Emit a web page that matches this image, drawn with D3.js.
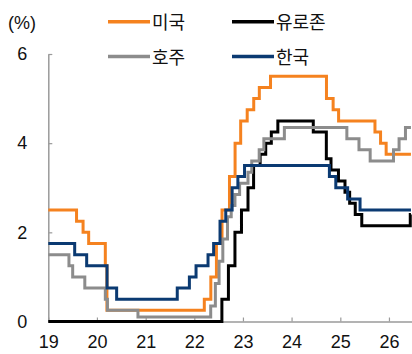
<!DOCTYPE html>
<html>
<head>
<meta charset="utf-8">
<script src="https://cdn.jsdelivr.net/npm/d3@7"></script>
<style>
  html, body { margin: 0; padding: 0; background: #fff; }
  svg { display: block; }
  text { font-family: "Liberation Sans", Arial, "Noto Sans CJK KR", sans-serif; fill: #111; }
  .legend text { font-family: "Noto Sans CJK KR", "Liberation Sans", sans-serif; }
</style>
</head>
<body>
<svg id="chart" width="412" height="354"></svg>
<script>
// Policy rates (%), given as the date each new rate took effect.
const usDates = ["2019-01-01","2019-08-01","2019-09-19","2019-10-31","2020-03-04","2020-03-16",
  "2022-03-17","2022-05-05","2022-06-16","2022-07-28","2022-09-22","2022-11-03","2022-12-15",
  "2023-02-02","2023-03-23","2023-05-04","2023-07-27","2024-09-19","2024-11-08","2024-12-19",
  "2025-09-18","2025-10-30","2025-12-11"];
const usRates = [2.50,2.25,2.00,1.75,1.25,0.25,
  0.50,1.00,1.75,2.50,3.25,4.00,4.50,
  4.75,5.00,5.25,5.50,5.00,4.75,4.50,
  4.25,4.00,3.75];

const euroDates = ["2019-01-01","2022-07-27","2022-09-14","2022-11-02","2022-12-21","2023-02-08",
  "2023-03-22","2023-05-10","2023-06-21","2023-08-02","2023-09-20","2024-06-12","2024-09-18",
  "2024-10-23","2024-12-18","2025-02-05","2025-03-12","2025-04-23","2025-06-11","2026-06-10"];
const euroRates = [0.00,0.50,1.25,2.00,2.50,3.00,
  3.50,3.75,4.00,4.25,4.50,4.25,3.65,
  3.40,3.15,2.90,2.65,2.40,2.15,2.40];

const auDates = ["2019-01-01","2019-06-05","2019-07-03","2019-10-02","2020-03-04","2020-03-20",
  "2020-11-04","2022-05-04","2022-06-08","2022-07-06","2022-08-03","2022-09-07","2022-10-05",
  "2022-11-02","2022-12-07","2023-02-08","2023-03-08","2023-05-03","2023-06-07","2023-11-08",
  "2025-02-19","2025-05-21","2025-08-13","2026-02-04","2026-03-18","2026-05-05"];
const auRates = [1.50,1.25,1.00,0.75,0.50,0.25,
  0.10,0.35,0.85,1.35,1.85,2.35,2.60,
  2.85,3.10,3.35,3.60,3.85,4.10,4.35,
  4.10,3.85,3.60,3.85,4.10,4.35];

const krDates = ["2019-01-01","2019-07-18","2019-10-16","2020-03-17","2020-05-28","2021-08-26",
  "2021-11-25","2022-01-14","2022-04-14","2022-05-26","2022-07-13","2022-08-25","2022-10-12",
  "2022-11-24","2023-01-13","2024-10-11","2024-11-28","2025-02-25","2025-05-29"];
const krRates = [1.75,1.50,1.25,0.75,0.50,0.75,
  1.00,1.25,1.50,1.75,2.25,2.50,3.00,
  3.25,3.50,3.25,3.00,2.75,2.50];

const seriesNames = ["미국","유로존","호주","한국"];
const seriesColors = ["#F5821F","#000000","#8C8C8C","#0B3A72"];
const lastDate = "2026-06-15";

const yearTickDates = ["2019-01-01","2020-01-01","2021-01-01","2022-01-01","2023-01-01","2024-01-01","2025-01-01","2026-01-01"];
const yearTickLabels = ["19","20","21","22","23","24","25","26"];
const rateTicks = [0,2,4,6];

const parse = d3.timeParse("%Y-%m-%d");

function buildSeries(dates, rates) {
  const pts = dates.map((d, i) => ({ date: parse(d), rate: rates[i] }));
  pts.push({ date: parse(lastDate), rate: rates[rates.length - 1] });
  return pts;
}
const allSeries = [
  buildSeries(usDates, usRates),
  buildSeries(euroDates, euroRates),
  buildSeries(auDates, auRates),
  buildSeries(krDates, krRates)
];

const svg = d3.select("#chart");
const x = d3.scaleTime()
  .domain([parse("2019-01-01"), parse("2026-06-20")])
  .range([48.3, 411.6]);
const y = d3.scaleLinear().domain([0, 6]).range([321.5, 54]);

// axes
const xAxis = d3.axisBottom(x)
  .tickValues(yearTickDates.map(parse))
  .tickFormat((d, i) => yearTickLabels[i])
  .tickSize(-4).tickSizeOuter(0).tickPadding(14);
const gx = svg.append("g").attr("transform", `translate(0,${y(0)})`).call(xAxis);

const yAxis = d3.axisLeft(y)
  .tickValues(rateTicks)
  .tickFormat(d3.format("d"))
  .tickSize(-4).tickSizeOuter(0).tickPadding(21);
const gy = svg.append("g").attr("transform", `translate(${x.range()[0]},0)`).call(yAxis);

[gx, gy].forEach(g => {
  g.select(".domain").attr("stroke", "#9a9a9a").attr("stroke-width", 1.5);
  g.selectAll(".tick line").attr("stroke", "#9a9a9a").attr("stroke-width", 1.2);
  g.selectAll(".tick text").style("font-size", "18px").attr("fill", "#111")
    .style("font-family", '"Liberation Sans", Arial, sans-serif');
});
gy.selectAll(".tick text").attr("text-anchor", "end");

// unit label
svg.append("text").attr("x", 8).attr("y", 28.5)
  .style("font-size", "18px").text("(%)");

// rate lines
const line = d3.line()
  .x(d => x(d.date))
  .y(d => y(d.rate))
  .curve(d3.curveStepAfter);

svg.append("g").selectAll("path")
  .data(allSeries)
  .join("path")
  .attr("d", line)
  .attr("fill", "none")
  .attr("stroke", (d, i) => seriesColors[i])
  .attr("stroke-width", 3)
  .attr("stroke-linejoin", "miter");

// legend: two rows, two columns
const legendX = [108, 232];
const legendY = [21.7, 56.5];
const legend = svg.append("g").attr("class", "legend");
seriesNames.forEach((name, i) => {
  const lx = legendX[i % 2], ly = legendY[Math.floor(i / 2)];
  legend.append("line")
    .attr("x1", lx).attr("x2", lx + 42)
    .attr("y1", ly).attr("y2", ly)
    .attr("stroke", seriesColors[i]).attr("stroke-width", 3.5);
  legend.append("text")
    .attr("x", lx + 44).attr("y", ly + 7)
    .style("font-size", "18px")
    .text(name);
});
</script>
</body>
</html>
